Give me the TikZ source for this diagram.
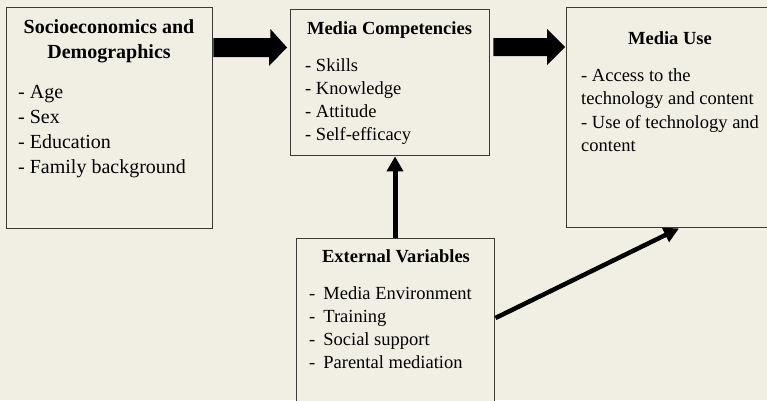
\documentclass[tikz,border=0pt]{standalone}
\usepackage{fontspec}
\setmainfont{Liberation Serif}
\usetikzlibrary{arrows.meta,calc}
\definecolor{bg}{HTML}{F1EFE4}
\definecolor{frame}{HTML}{3A3A3A}
\begin{document}
\begin{tikzpicture}[x=1pt,y=-1pt,
  box/.style={draw=frame, line width=1.4pt, fill=bg, rectangle, anchor=north west, inner sep=0pt},
  bigtxt/.style={font=\fontsize{20}{25}\selectfont, anchor=base west, inner sep=0pt},
  bigtitle/.style={font=\fontsize{20}{25}\selectfont\bfseries, anchor=base, inner sep=0pt},
  txt/.style={font=\fontsize{18.5}{23}\selectfont, anchor=base west, inner sep=0pt},
  ttl/.style={font=\fontsize{18.5}{23}\selectfont\bfseries, anchor=base, inner sep=0pt},
  thinarrow/.style={line width=5pt, -{Triangle[length=15pt,width=16pt]}},
  diagarrow/.style={line width=4.5pt, -{Triangle[length=15pt,width=15pt]}}]
\fill[bg] (0,0) rectangle (767,400);
\useasboundingbox (0,0) rectangle (767,400);

% boxes
\node[box, minimum width=206pt, minimum height=221pt] (soc) at (6,7) {};
\node[box, minimum width=199pt, minimum height=146pt] (comp) at (290,9) {};
\node[box, minimum width=209pt, minimum height=220pt] (use) at (566,7) {};
\node[box, minimum width=198pt, minimum height=172pt] (ext) at (296,238) {};

% texts: Socioeconomics
\node[bigtitle] (socT1) at (109,33) {Socioeconomics and};
\node[bigtitle] (socT2) at (109,58) {Demographics};
\foreach \t [count=\i] in {{Age},{Sex},{Education},{Family background}}
  \node[bigtxt] (socL\i) at (18,73+25*\i) {- \t};

% Media Competencies
\node[ttl] (compT) at (389.5,34) {Media Competencies};
\foreach \t [count=\i] in {{Skills},{Knowledge},{Attitude},{Self-efficacy}}
  \node[txt] (compL\i) at (305,48+23*\i) {- \t};

% Media Use
\node[ttl] (useT) at (670,44) {Media Use};
\node[txt] (useL1) at (581,81) {- Access to the};
\node[txt] (useL2) at (581,104) {technology and content};
\node[txt] (useL3) at (581,128) {- Use of technology and};
\node[txt] (useL4) at (581,151) {content};

% External Variables
\node[ttl] (extT) at (396,262) {External Variables};
\foreach \t [count=\i] in {{Media Environment},{Training},{Social support},{Parental mediation}}
  \node[txt] (extL\i) at (309,276+23*\i) {-\hskip 8pt\t};

% big arrows
\coordinate (ya) at (0,47.5);
\coordinate (yb) at (0,47);
\coordinate (a1s) at (soc.east |- ya);
\coordinate (a1e) at ($(comp.west |- ya)+(-3,0)$);
\fill[black] ($(a1s)+(0,-9.5)$) -- ++(57,0) -- ++(0,-9) -- (a1e)
  -- ($(a1e)+(-18,18.5)$) -- ++(0,-9) -- ($(a1s)+(0,9.5)$) -- cycle;
\coordinate (a2s) at ($(comp.east |- yb)+(3,0)$);
\coordinate (a2e) at ($(use.west |- yb)+(-1,0)$);
\fill[black] ($(a2s)+(0,-9)$) -- ($(a2e)+(-18,-9)$) -- ++(0,-9) -- (a2e)
  -- ($(a2e)+(-18,18)$) -- ++(0,-9) -- ($(a2s)+(0,9)$) -- cycle;

% thin arrows
\coordinate (xv) at (395,0);
\draw[thinarrow] (ext.north -| xv) -- (comp.south -| xv);
\coordinate (yd) at (0,318);
\coordinate (xd) at (679,0);
\draw[diagarrow] (ext.east |- yd) -- (use.south -| xd);
\end{tikzpicture}
\end{document}
